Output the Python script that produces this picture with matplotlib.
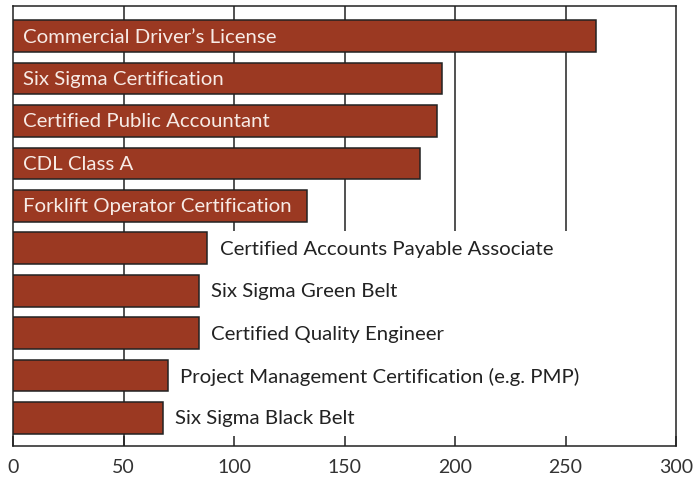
import matplotlib.pyplot as plt

# certifications, top to bottom
labels = ["Commercial Driver\u2019s License", "Six Sigma Certification",
          "Certified Public Accountant", "CDL Class A",
          "Forklift Operator Certification",
          "Certified Accounts Payable Associate", "Six Sigma Green Belt",
          "Certified Quality Engineer",
          "Project Management Certification (e.g. PMP)", "Six Sigma Black Belt"]
counts = [264, 194, 192, 184, 133, 88, 84, 84, 70, 68]
xticks = [0, 50, 100, 150, 200, 250, 300]

bar_color = "#9b3922"
edge = "#222222"
font = "Lato"

fig = plt.figure(figsize=(6.94, 4.81), dpi=100)
ax = fig.add_axes([13 / 694, 1 - 447 / 481, 663 / 694, 440 / 481])

y = list(range(len(labels)))
ax.barh(y, counts, height=0.75, color=bar_color, edgecolor=edge,
        linewidth=1.1, zorder=3)

# grid: first line runs full height, the rest stop above the outside labels
n_inside = 5
ax.vlines(50, -0.71, 9.66, color=edge, linewidth=1.1, zorder=1)
ax.vlines(xticks[2:-1], -0.71, n_inside - 0.4, color=edge, linewidth=1.1, zorder=1)

for i, (lab, val) in enumerate(zip(labels, counts)):
    if i < n_inside:
        ax.text(4.5, i, lab, color="#f7ebe6", fontsize=14.7, family=font,
                va="center", ha="left", zorder=4)
    else:
        ax.text(val + 5.5, i, lab, color="#222222", fontsize=14.7, family=font,
                va="center", ha="left", zorder=4)

ax.set_xlim(0, 300)
ax.set_ylim(9.66, -0.71)
ax.set_yticks([])
ax.set_xticks(xticks)
ax.set_xticklabels([str(t) for t in xticks], fontsize=14, family=font,
                   color="#333333")
ax.tick_params(axis="x", direction="in", length=7, width=1.1, color=edge, pad=9)
for s in ax.spines.values():
    s.set_color(edge)
    s.set_linewidth(1.1)

fig.savefig("out.png", dpi=100)
